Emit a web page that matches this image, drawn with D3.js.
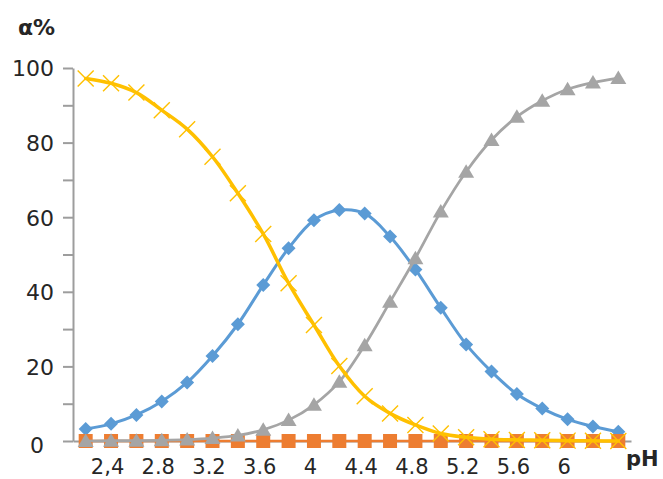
<!DOCTYPE html>
<html>
<head>
<meta charset="utf-8">
<script src="https://cdn.jsdelivr.net/npm/d3@7"></script>
<style>
  html, body { margin: 0; padding: 0; background: #fff; }
  svg { display: block; }
  text { font-family: "DejaVu Sans", Verdana, sans-serif; fill: #262626; }
</style>
</head>
<body>
<script>
// pH categories (every 0.2 pH unit)
const phValues = [2.2, 2.4, 2.6, 2.8, 3.0, 3.2, 3.4, 3.6, 3.8, 4.0, 4.2,
                  4.4, 4.6, 4.8, 5.0, 5.2, 5.4, 5.6, 5.8, 6.0, 6.2, 6.4];

// Distribution fractions, α %
const alphaHA  = [3.2, 4.6, 7.0, 10.6, 15.7, 22.8, 31.3, 41.8, 51.7, 59.2, 61.9,
                  61.0, 54.8, 46.0, 35.7, 25.9, 18.6, 12.6, 8.7, 5.8, 3.9, 2.5];
const alphaH3A = [0, 0, 0, 0, 0, 0, 0, 0, 0, 0, 0,
                  0, 0, 0, 0, 0, 0, 0, 0, 0, 0, 0];
const alphaA   = [0.0, 0.1, 0.1, 0.2, 0.4, 0.8, 1.5, 3.0, 5.6, 9.7, 15.9,
                  25.7, 37.3, 49.0, 61.5, 72.2, 80.7, 86.9, 91.2, 94.3, 96.1, 97.3];
const alphaH2A = [97.2, 95.9, 93.4, 88.7, 83.6, 76.2, 66.4, 55.5, 42.3, 31.1, 20.1,
                  12.0, 7.4, 4.3, 2.0, 1.0, 0.5, 0.3, 0.2, 0.1, 0.05, 0];

// Axis labels shown on the category axis (every other category)
const xTickLabels = {2.4: "2,4", 2.8: "2.8", 3.2: "3.2", 3.6: "3.6", 4.0: "4",
                     4.4: "4.4", 4.8: "4.8", 5.2: "5.2", 5.6: "5.6", 6.0: "6"};
const yTicks = [0, 10, 20, 30, 40, 50, 60, 70, 80, 90, 100];
const yLabelTicks = [0, 20, 40, 60, 80, 100];

const W = 663, H = 479;
const svg = d3.select("body").append("svg").attr("width", W).attr("height", H);
svg.append("rect").attr("width", W).attr("height", H).attr("fill", "#fff");

const x = d3.scalePoint().domain(phValues).range([73, 631]).padding(0.5);
const y = d3.scaleLinear().domain([0, 100]).range([441, 68]);

const axisColor = "#9d9d9d";
const fontStack = "'DejaVu Sans', Verdana, sans-serif";

// Y axis
const yAxis = svg.append("g").attr("transform", "translate(73,0)")
  .call(d3.axisLeft(y).tickValues(yTicks).tickSize(10).tickSizeOuter(0)
    .tickFormat(d => yLabelTicks.includes(d) ? d : ""));
yAxis.select(".domain").attr("stroke", axisColor).attr("stroke-width", 2);
yAxis.selectAll(".tick line").attr("stroke", axisColor).attr("stroke-width", 2);
yAxis.selectAll(".tick text")
  .attr("x", -19).attr("dy", "0.36em")
  .style("font-size", "22px").style("font-family", fontStack)
  .attr("fill", "#262626");
yAxis.selectAll(".tick").filter(d => d === 0).select("text").attr("x", -29).attr("dy", "0.5em");

// X axis
const xAxis = svg.append("g").attr("transform", "translate(0,441)")
  .call(d3.axisBottom(x).tickSize(0).tickSizeOuter(0)
    .tickFormat(d => xTickLabels[d] || ""));
xAxis.select(".domain").attr("stroke", axisColor).attr("stroke-width", 2);
xAxis.selectAll(".tick text")
  .attr("y", 18).attr("dy", "0.71em").attr("dx", -4)
  .style("font-size", "21px").style("font-family", fontStack)
  .attr("fill", "#262626");

// Axis titles
svg.append("text").attr("x", 18).attr("y", 35)
  .style("font-size", "22px").style("font-weight", "bold").text("α%");
svg.append("text").attr("x", 626).attr("y", 466)
  .style("font-size", "21px").style("font-weight", "bold").text("pH");

const line = d3.line().curve(d3.curveCatmullRom.alpha(0.5));

function drawSeries(values, color, width, marker) {
  const pts = values.map((v, i) => [x(phValues[i]), y(v)]);
  const g = svg.append("g");
  g.append("path").attr("d", line(pts)).attr("fill", "none")
    .attr("stroke", color).attr("stroke-width", width)
    .attr("stroke-linejoin", "round").attr("stroke-linecap", "round");
  const m = g.selectAll(".m").data(pts).join("g")
    .attr("transform", d => `translate(${d[0]},${d[1]})`);
  marker(m, color);
}

const diamond = (sel, c) => sel.append("path")
  .attr("d", "M0,-7L7,0L0,7L-7,0Z").attr("fill", c);
const square = (sel, c) => sel.append("rect")
  .attr("x", -7).attr("y", -7).attr("width", 14).attr("height", 14).attr("fill", c);
const triangle = (sel, c) => sel.append("path")
  .attr("d", "M0,-7.5L8,6L-8,6Z").attr("fill", c);
const cross = (sel, c) => sel.append("path")
  .attr("d", "M-8,-8L8,8M-8,8L8,-8").attr("stroke", c).attr("stroke-width", 1.4).attr("fill", "none");

drawSeries(alphaHA, "#5B9BD5", 3, diamond);
drawSeries(alphaH3A, "#ED7D31", 2.5, square);
drawSeries(alphaA, "#A5A5A5", 2.75, triangle);
drawSeries(alphaH2A, "#FFC000", 3.5, cross);
</script>
</body>
</html>
